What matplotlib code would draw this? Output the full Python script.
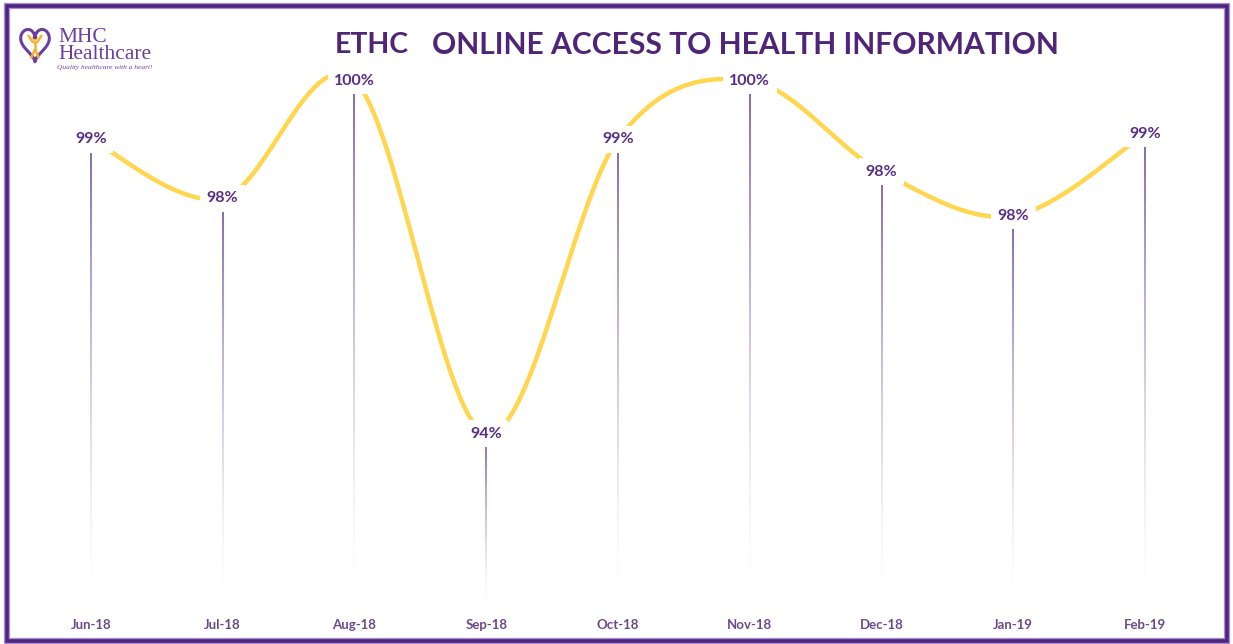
import numpy as np
import matplotlib
matplotlib.use("Agg")
import matplotlib.pyplot as plt
from matplotlib.collections import LineCollection
from matplotlib.patches import Rectangle

# ---------------- data ----------------
months = ["Jun-18", "Jul-18", "Aug-18", "Sep-18", "Oct-18", "Nov-18", "Dec-18", "Jan-19", "Feb-19"]
values = [99.0, 98.0, 100.0, 94.0, 99.0, 100.0, 98.45, 97.7, 99.1]
labels = ["99%", "98%", "100%", "94%", "99%", "100%", "98%", "98%", "99%"]
title_left = "ETHC"
title_right = "ONLINE ACCESS TO HEALTH INFORMATION"

W, H = 1233, 644
PURPLE = "#5a2d82"
TITLE_C = "#4f2578"
TICK_C = "#6a4a8c"
YELLOW = "#ffd64d"
DROP_C = "#6e4a96"

fig = plt.figure(figsize=(W / 100, H / 100), dpi=100)
fig.patch.set_facecolor("white")

ymin, ymax = 91.0, 100.3
ax = fig.add_axes([25 / W, 34 / H, (1211 - 25) / W, (610 - 63) / H])
ax.set_xlim(-0.5, len(months) - 0.5)
ax.set_ylim(ymin, ymax)
for s in ax.spines.values():
    s.set_visible(False)
ax.set_yticks([])
ax.set_xticks(range(len(months)))
ax.set_xticklabels(months, fontfamily="Lato", fontweight="bold", fontsize=9.5, color=TICK_C)
ax.tick_params(axis="x", length=0, pad=6.5)

x = np.arange(len(values), dtype=float)
y = np.array(values, dtype=float)

# smooth curve (Catmull-Rom style Bezier like Excel smoothing)
P = np.column_stack([x, y])
Pext = np.vstack([P[0], P, P[-1]])
curve = []
tt = np.linspace(0, 1, 60)
for i in range(len(P) - 1):
    p0, p1, p2, p3 = Pext[i], Pext[i + 1], Pext[i + 2], Pext[i + 3]
    c1 = p1 + (p2 - p0) / 6.0
    c2 = p2 - (p3 - p1) / 6.0
    b = ((1 - tt) ** 3)[:, None] * p1 + (3 * (1 - tt) ** 2 * tt)[:, None] * c1 \
        + (3 * (1 - tt) * tt ** 2)[:, None] * c2 + (tt ** 3)[:, None] * p2
    curve.append(b if i == 0 else b[1:])
curve = np.vstack(curve)
ax.plot(curve[:, 0], curve[:, 1], color=YELLOW, lw=3.2, solid_capstyle="round", zorder=2)

# gradient drop lines
base_rgb = matplotlib.colors.to_rgb(DROP_C)
for xi, yi in zip(x, y):
    n = 120
    ys = np.linspace(yi, ymin, n + 1)
    segs = [[(xi, ys[k]), (xi, ys[k + 1])] for k in range(n)]
    frac = np.linspace(0, 1, n)
    alphas = np.clip(1 - frac * 1.04, 0, 1) ** 1.4
    cols = [(*base_rgb, a) for a in alphas]
    ax.add_collection(LineCollection(segs, colors=cols, linewidths=1.2, zorder=1))

# data labels
for xi, yi, lab in zip(x, y, labels):
    ax.text(xi, yi, lab, ha="center", va="center", fontfamily="Lato", fontweight="bold",
            fontsize=11.5, color=PURPLE, zorder=5,
            bbox=dict(boxstyle="square,pad=0.4", facecolor="white", edgecolor="none"))

# title
fig.text(335 / W, 1 - 45 / H, title_left, ha="left", va="center", fontfamily="Lato",
         fontweight="bold", fontsize=20.5, color=TITLE_C)
fig.text(432 / W, 1 - 45 / H, title_right, ha="left", va="center", fontfamily="Lato",
         fontweight="bold", fontsize=21.6, color=TITLE_C)

# logo
fig.text(58 / W, 1 - 59 / H, "MHC\nHealthcare", ha="left", va="baseline",
         fontfamily="Liberation Serif", fontsize=15.5, color="#6b3fa0", linespacing=0.88)
fig.text(57 / W, 1 - 69 / H, "Quality healthcare with a heart!", ha="left", va="baseline",
         fontfamily="Liberation Serif", fontstyle="italic", fontsize=5.3, color="#6b3fa0")
lax = fig.add_axes([18 / W, 1 - 64 / H, 34 / W, 38 / H])
lax.set_axis_off()
t = np.linspace(0, 2 * np.pi, 200)
hx = 16 * np.sin(t) ** 3
hy = 13 * np.cos(t) - 5 * np.cos(2 * t) - 2 * np.cos(3 * t) - np.cos(4 * t)
lax.plot(hx, hy, color="#6b3fa0", lw=2.2)
lax.add_patch(matplotlib.patches.Circle((0, 4.5), 2.2, color="#f5b335"))
lax.plot([-7, -3, 0, 3, 7], [6, 1, 0, 1, 6], color="#f5b335", lw=1.8)
lax.plot([0, 0], [0, -6], color="#f5b335", lw=1.8)
lax.plot([-4, 0, 4], [-13, -6, -13], color="#f5b335", lw=1.8)
lax.set_xlim(-19, 19)
lax.set_ylim(-19, 15)

# frame
fx0, fy0, fx1, fy1 = 7, 6, 1227, 641
rect_kw = dict(transform=fig.transFigure, fill=False)
fig.add_artist(Rectangle((fx0 / W, 1 - fy1 / H), (fx1 - fx0) / W, (fy1 - fy0) / H,
                         edgecolor="#a88fcb", lw=4.5, **rect_kw))
fig.add_artist(Rectangle((fx0 / W, 1 - fy1 / H), (fx1 - fx0) / W, (fy1 - fy0) / H,
                         edgecolor="#4e2580", lw=2.6, **rect_kw))

fig.savefig("out.png", dpi=100, facecolor="white")
